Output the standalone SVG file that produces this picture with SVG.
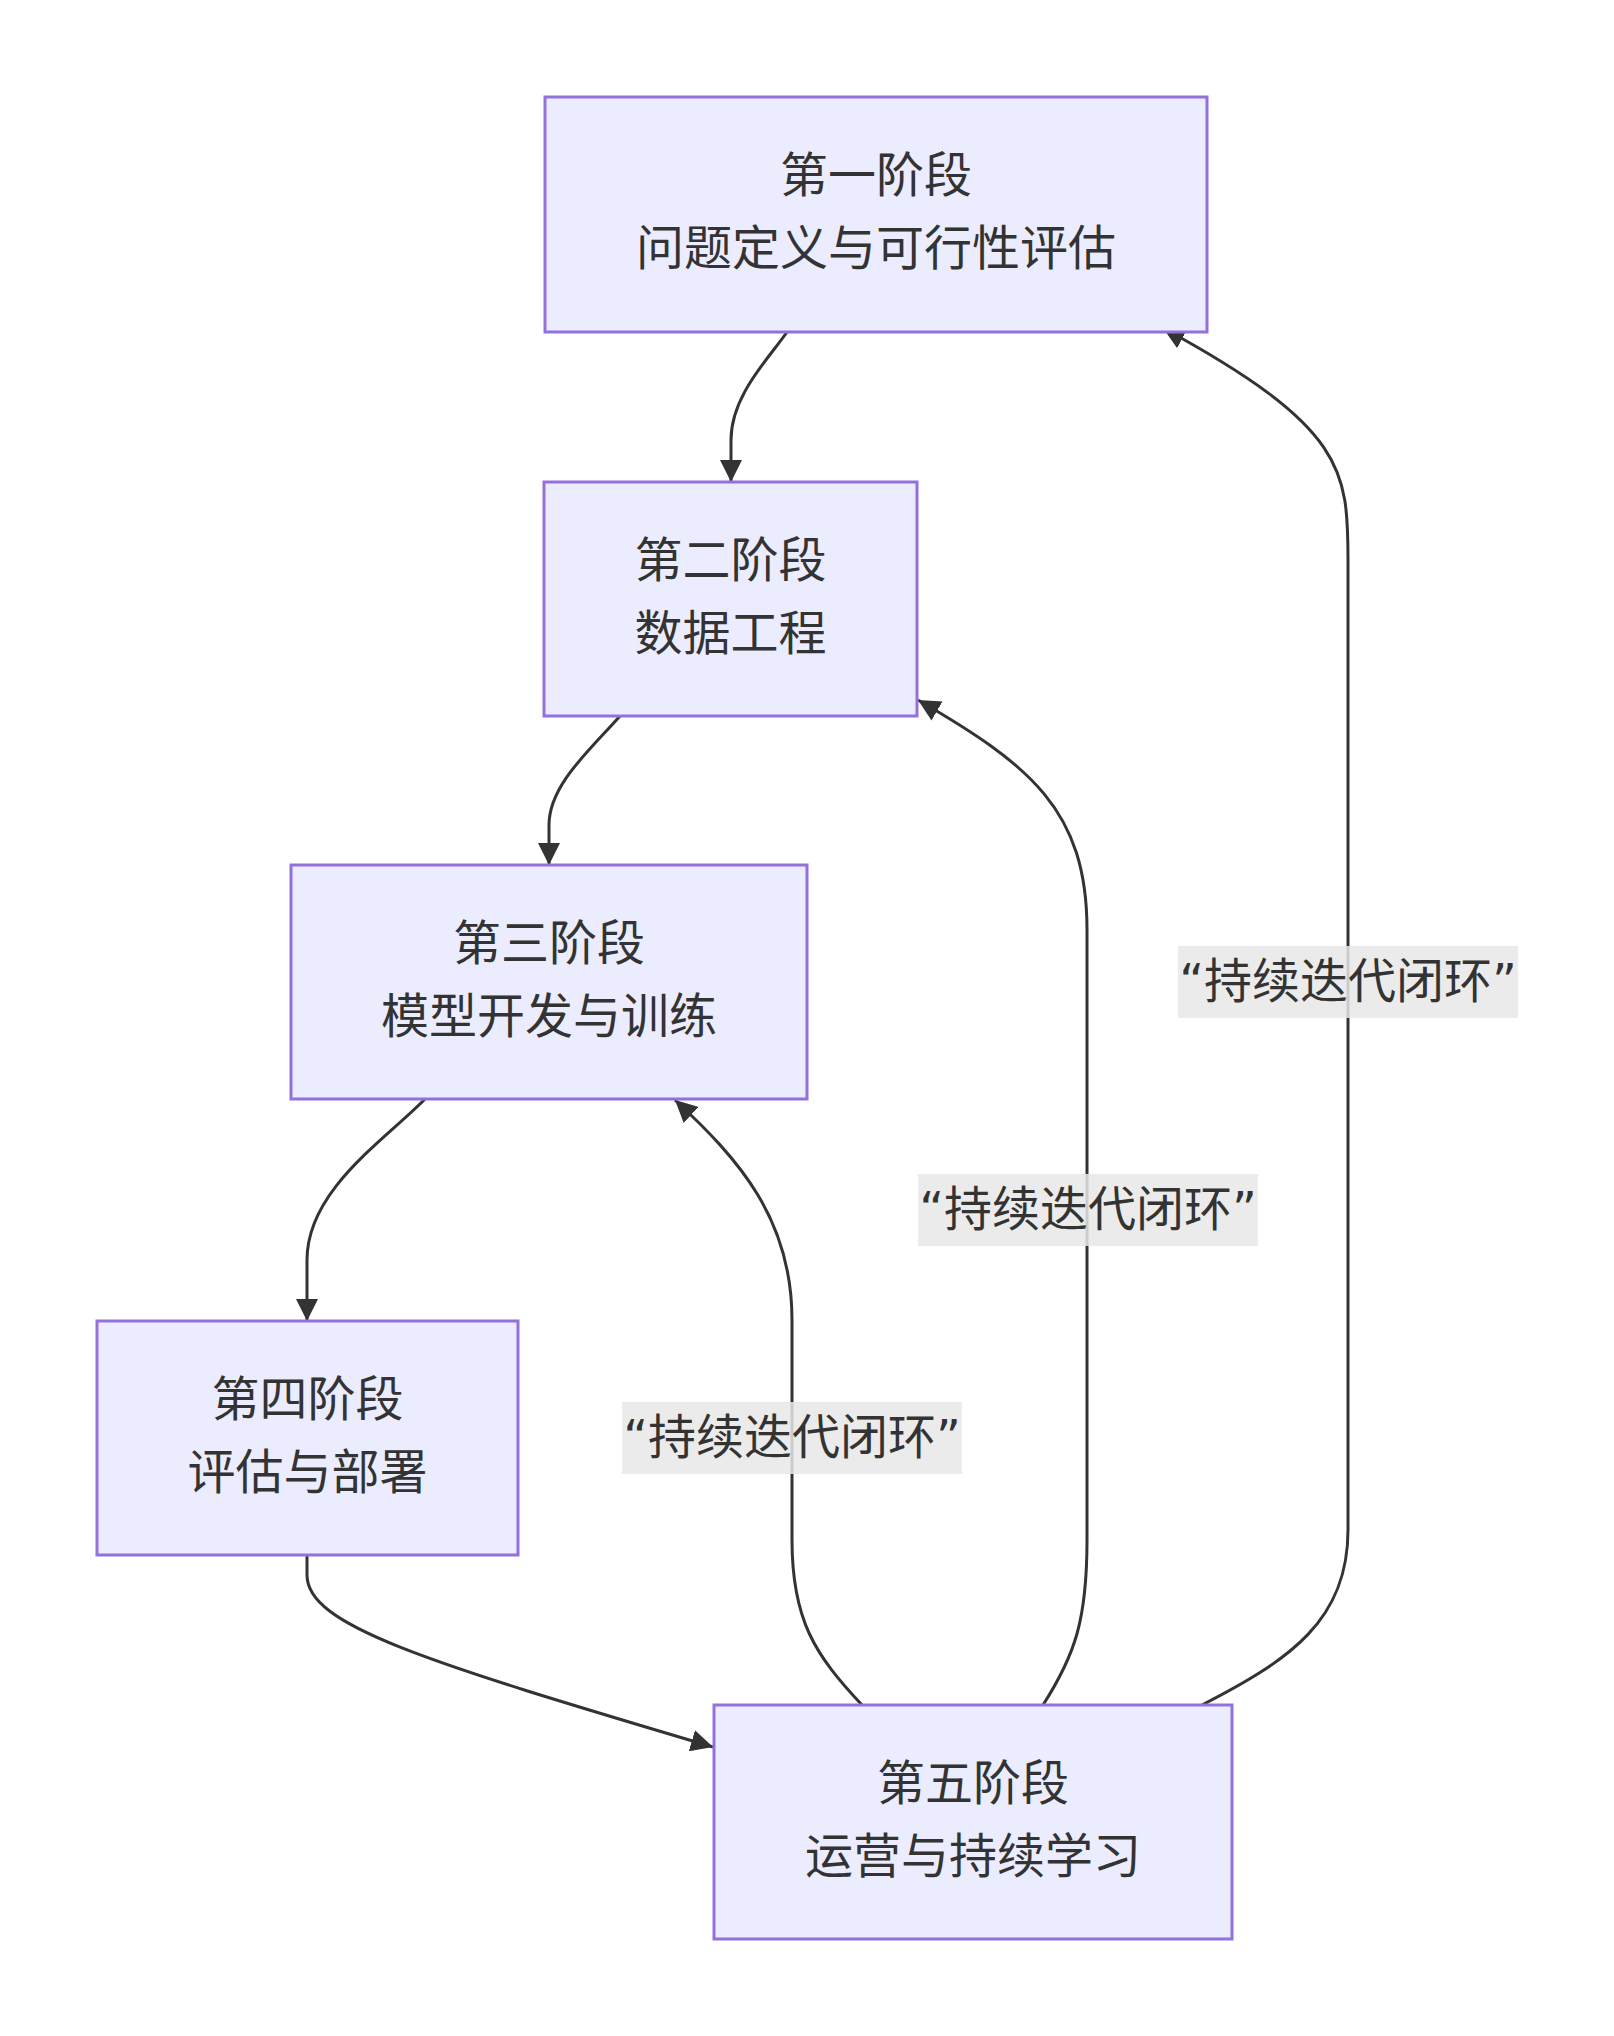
<svg xmlns="http://www.w3.org/2000/svg" width="1614" height="2036" viewBox="0 0 1614 2036">
<style>
.node rect{fill:#ECECFF;stroke:#9370DB;stroke-width:3}
.node text{font-family:"Noto Sans CJK SC","Noto Sans",sans-serif;font-size:48px;fill:#333333;text-anchor:middle}
.edge{fill:none;stroke:#333333;stroke-width:3;marker-end:url(#arrow)}
.lbl rect{fill:#e8e8e8;fill-opacity:0.85}
.lbl text{font-family:"DejaVu Sans","Noto Sans CJK SC",sans-serif;font-size:48px;fill:#333333;text-anchor:middle}
</style>
<defs>
<marker id="arrow" viewBox="0 0 10 10" refX="10" refY="5" markerUnits="userSpaceOnUse" markerWidth="22" markerHeight="22" orient="auto">
<path d="M0,0 L10,5 L0,10 z" fill="#333333"/>
</marker>
</defs>
<rect width="1614" height="2036" fill="#ffffff"/>
<g id="connectors">
<path class="edge" d="M787,332 C770,357 731,395 731,440 L731,482"/>
<path class="edge" d="M620,716 C590,750 549,785 549,825 L549,865"/>
<path class="edge" d="M425,1099 C385,1140 307,1190 307,1260 L307,1321"/>
<path class="edge" d="M307,1555 L307,1575 C307,1625 420,1660 713,1747"/>
<path class="edge" d="M862,1705 C815,1655 792,1620 792,1540 L792,1320 C792,1220 740,1160 675,1100"/>
<path class="edge" d="M1043,1705 C1075,1655 1087,1620 1087,1540 L1087,930 C1087,810 1030,765 918,700"/>
<path class="edge" d="M1202,1705 C1290,1660 1348,1620 1348,1530 L1348,560 C1348,470 1345,427 1163,328"/>
</g>
<g id="edge-labels">
<g class="lbl" id="label-5-3"><rect x="622" y="1402" width="340" height="72"/><text x="792" y="1454">“持续迭代闭环”</text></g>
<g class="lbl" id="label-5-2"><rect x="918" y="1174" width="340" height="72"/><text x="1088" y="1226">“持续迭代闭环”</text></g>
<g class="lbl" id="label-5-1"><rect x="1178" y="946" width="340" height="72"/><text x="1348" y="998">“持续迭代闭环”</text></g>
</g>
<g id="nodes">
<g class="node" id="stage1"><rect x="545" y="97" width="662" height="235"/><text x="876" y="192">第一阶段</text><text x="876" y="265">问题定义与可行性评估</text></g>
<g class="node" id="stage2"><rect x="544" y="482" width="373" height="234"/><text x="730.5" y="577">第二阶段</text><text x="730.5" y="650">数据工程</text></g>
<g class="node" id="stage3"><rect x="291" y="865" width="516" height="234"/><text x="549" y="960">第三阶段</text><text x="549" y="1033">模型开发与训练</text></g>
<g class="node" id="stage4"><rect x="97" y="1321" width="421" height="234"/><text x="307.5" y="1416">第四阶段</text><text x="307.5" y="1489">评估与部署</text></g>
<g class="node" id="stage5"><rect x="714" y="1705" width="518" height="234"/><text x="973" y="1800">第五阶段</text><text x="973" y="1873">运营与持续学习</text></g>
</g>
</svg>
